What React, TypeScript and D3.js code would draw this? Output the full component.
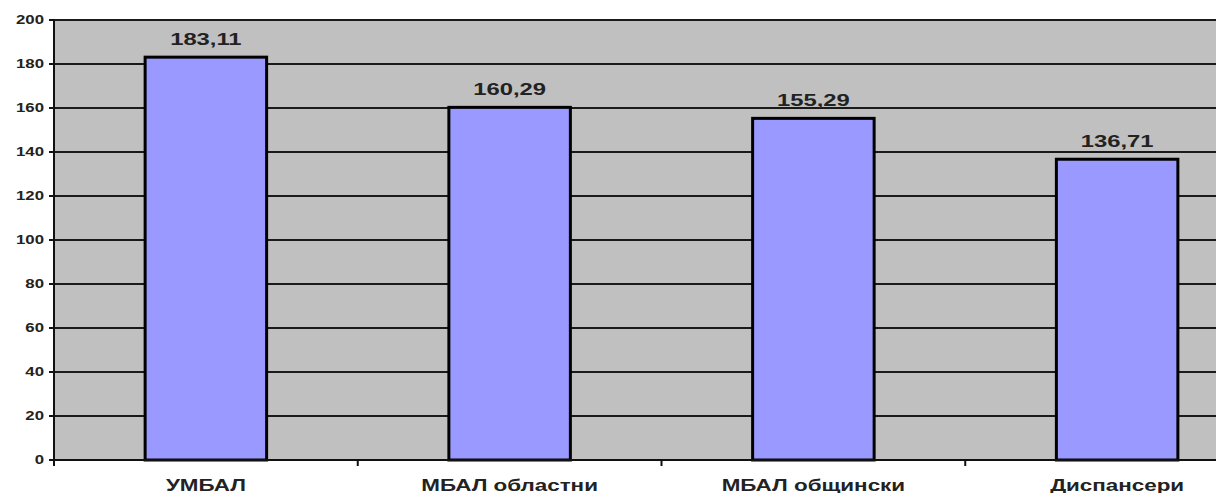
import React from "react";
import * as d3 from "d3";

const categories = ["УМБАЛ", "МБАЛ областни", "МБАЛ общински", "Диспансери"];
const values = [183.11, 160.29, 155.29, 136.71];
const valueLabels = ["183,11", "160,29", "155,29", "136,71"];
const yTicks = [0, 20, 40, 60, 80, 100, 120, 140, 160, 180, 200];

const W = 1216;
const H = 493;
const left = 54;
const right = 1269;
const top = 20;
const bottom = 460;
const SX = 1.4;
const FONT = "'Liberation Sans', Arial, sans-serif";

export default function App() {
  const x = d3.scaleBand<string>().domain(categories).range([left, right]).paddingInner(0.6).paddingOuter(0.3);
  const band = d3.scaleBand<string>().domain(categories).range([left, right]);
  const y = d3.scaleLinear().domain([0, 200]).range([bottom, top]);

  const sText = (tx: number, ty: number, txt: string, size: number, anchor: string, key: string) => (
    <text
      key={key}
      transform={`translate(${tx},${ty}) scale(${SX},1)`}
      fontFamily={FONT}
      fontWeight="bold"
      fontSize={size}
      fill="#222"
      textAnchor={anchor}
    >
      {txt}
    </text>
  );

  return (
    <svg width={W} height={H} style={{ position: "absolute", left: 0, top: 0, background: "#fff" }}>
      <rect x={left} y={top} width={right - left} height={bottom - top} fill="#c0c0c0" stroke="#9a9a9a" strokeWidth={1} />
      {yTicks.filter((t) => t > 0).map((t) => (
        <line key={"g" + t} x1={left} x2={right} y1={y(t)} y2={y(t)} stroke="#1a1a1a" strokeWidth={2} />
      ))}
      {yTicks.map((t) => (
        <line key={"t" + t} x1={left - 5} x2={left} y1={y(t)} y2={y(t)} stroke="#111" strokeWidth={2} />
      ))}
      {yTicks.map((t) => sText(44, y(t) + 4, String(t), 12, "end", "l" + t))}
      {categories.map((c, i) => (
        <rect
          key={"b" + c}
          x={x(c)!}
          y={y(values[i])}
          width={x.bandwidth()}
          height={bottom - y(values[i])}
          fill="#9999ff"
          stroke="#000"
          strokeWidth={3}
        />
      ))}
      <line x1={left} x2={left} y1={top} y2={bottom + 1} stroke="#111" strokeWidth={2} />
      <line x1={left} x2={right} y1={bottom} y2={bottom} stroke="#111" strokeWidth={2} />
      {categories.map((c) => (
        <line key={"ct" + c} x1={band(c)!} x2={band(c)!} y1={bottom} y2={bottom + 6} stroke="#111" strokeWidth={2} />
      ))}
      {categories.map((c, i) =>
        sText(x(c)! + x.bandwidth() / 2, y(values[i]) - 12, valueLabels[i], 17, "middle", "v" + i)
      )}
      {categories.map((c, i) =>
        sText(band(c)! + band.bandwidth() / 2, 491, c, 16, "middle", "c" + i)
      )}
    </svg>
  );
}
